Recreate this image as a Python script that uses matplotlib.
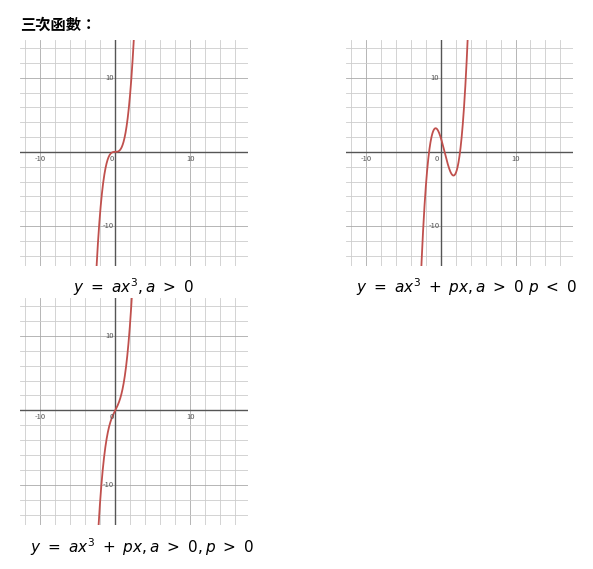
import numpy as np
import matplotlib.pyplot as plt

plt.rcParams['font.family'] = ['Noto Sans CJK TC', 'DejaVu Sans']

W, H = 593, 569
title = "三次函數："
captions = [r"$y\ =\ ax^3, a\ >\ 0$",
            r"$y\ =\ ax^3\ +\ px, a\ >\ 0\ p\ <\ 0$",
            r"$y\ =\ ax^3\ +\ px, a\ >\ 0, p\ >\ 0$"]
# cubic coefficients (a, shift h, p) for y = a*((x-h)^3 + p*(x-h))
coefs = [(1.0, 0.0, 0.0), (0.93, 0.5, -4.3), (1.0, 0.0, 2.0)]
# panel boxes in pixels: left, top, right, bottom
boxes = [(20, 40, 248, 266), (346, 40, 573, 266), (20, 298, 248, 525)]
cap_pos = [(133, 287), (467, 287), (142, 547)]
xlim = (-12.7, 17.7)
ylim = (-15.4, 15.1)

fig = plt.figure(figsize=(W / 100, H / 100), dpi=100)
fig.text(20 / W, 1 - 25 / H, title, fontsize=11, fontweight='bold', va='center')

for (l, t, r, b), (a, h, p), cap, (cx, cy) in zip(boxes, coefs, captions, cap_pos):
    ax = fig.add_axes([l / W, 1 - b / H, (r - l) / W, (b - t) / H])
    ax.set_xlim(*xlim)
    ax.set_ylim(*ylim)
    for v in np.arange(-12, 18, 2):
        ax.axvline(v, color='#cccccc' if v % 10 else '#aaaaaa', lw=0.6, zorder=0)
    for v in np.arange(-14, 16, 2):
        ax.axhline(v, color='#cccccc' if v % 10 else '#aaaaaa', lw=0.6, zorder=0)
    ax.axhline(0, color='#555555', lw=1)
    ax.axvline(0, color='#555555', lw=1)
    for s in ax.spines.values():
        s.set_visible(False)
    ax.set_xticks([])
    ax.set_yticks([])
    fs = 5.5
    ax.text(-10, -0.4, "-10", fontsize=fs, color='#555555', ha='center', va='top')
    ax.text(10, -0.4, "10", fontsize=fs, color='#555555', ha='center', va='top')
    ax.text(-0.2, -0.4, "0", fontsize=fs, color='#555555', ha='right', va='top')
    ax.text(-0.2, 10, "10", fontsize=fs, color='#555555', ha='right', va='center')
    ax.text(-0.2, -10, "-10", fontsize=fs, color='#555555', ha='right', va='center')
    x = np.linspace(-6, 6, 800)
    u = x - h
    y = a * (u ** 3 + p * u)
    y = np.where(np.abs(y) > 20, np.nan, y)
    ax.plot(x, y, color='#c0504d', lw=1.3)
    fig.text(cx / W, 1 - cy / H, cap, fontsize=11, ha='center', va='center')

fig.savefig("out.png", dpi=100)
